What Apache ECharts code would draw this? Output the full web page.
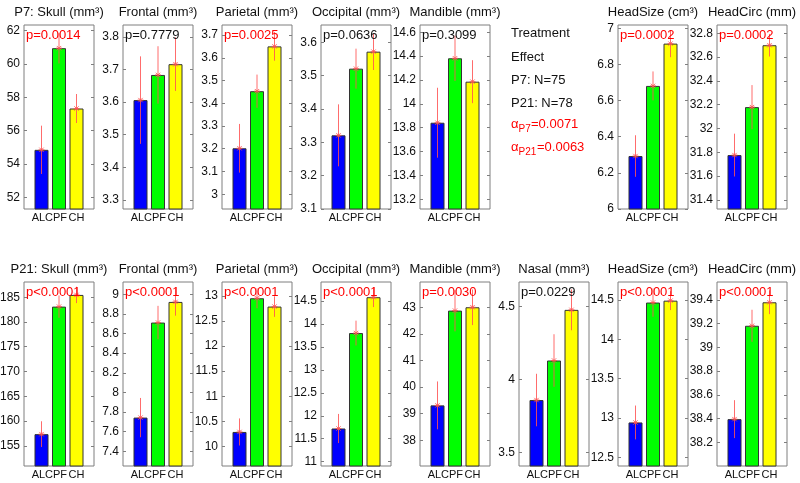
<!DOCTYPE html>
<html><head><meta charset="utf-8">
<script src="https://cdn.jsdelivr.net/npm/echarts@6/dist/echarts.min.js"></script>
<style>html,body{margin:0;padding:0;background:#fff}#c{width:800px;height:483px}</style>
</head><body><div id="c"></div>
<script>
// ---------- DATA ----------
const groups = ['AL', 'CPF', 'CH'];

// P7 (top row)
const p7SkullMean = [54.85, 60.95, 57.33];      const p7SkullErr = [1.45, 0.92, 0.87];
const p7SkullTicks = [52, 54, 56, 58, 60, 62];  const p7SkullRange = [51.3, 62.34];
const p7FrontalMean = [3.606, 3.683, 3.716];    const p7FrontalErr = [0.134, 0.088, 0.082];
const p7FrontalTicks = [3.3, 3.4, 3.5, 3.6, 3.7, 3.8]; const p7FrontalRange = [3.2725, 3.836];
const p7ParietalMean = [3.202, 3.453, 3.650];   const p7ParietalErr = [0.107, 0.073, 0.063];
const p7ParietalTicks = [3, 3.1, 3.2, 3.3, 3.4, 3.5, 3.6, 3.7]; const p7ParietalRange = [2.935, 3.744];
const p7OccipitalMean = [3.321, 3.521, 3.572];  const p7OccipitalErr = [0.093, 0.060, 0.055];
const p7OccipitalTicks = [3.1, 3.2, 3.3, 3.4, 3.5, 3.6]; const p7OccipitalRange = [3.1, 3.652];
const p7MandibleMean = [13.842, 14.382, 14.186]; const p7MandibleErr = [0.293, 0.19, 0.18];
const p7MandibleTicks = [13.2, 13.4, 13.6, 13.8, 14, 14.2, 14.4, 14.6]; const p7MandibleRange = [13.119, 14.661];
const p7HeadSizeMean = [6.293, 6.681, 6.915];   const p7HeadSizeErr = [0.115, 0.08, 0.075];
const p7HeadSizeTicks = [6, 6.2, 6.4, 6.6, 6.8, 7]; const p7HeadSizeRange = [6, 7.018];
const p7HeadCircMean = [31.777, 32.18, 32.70];  const p7HeadCircErr = [0.18, 0.185, 0.095];
const p7HeadCircTicks = [31.4, 31.6, 31.8, 32, 32.2, 32.4, 32.6, 32.8]; const p7HeadCircRange = [31.324, 32.87];

// P21 (bottom row)
const p21SkullMean = [157.35, 183.1, 185.46];   const p21SkullErr = [2.6, 2.25, 1.65];
const p21SkullTicks = [155, 160, 165, 170, 175, 180, 185]; const p21SkullRange = [150.92, 188.07];
const p21FrontalMean = [7.744, 8.712, 8.922];   const p21FrontalErr = [0.2, 0.17, 0.14];
const p21FrontalTicks = [7.4, 7.6, 7.8, 8, 8.2, 8.4, 8.6, 8.8, 9]; const p21FrontalRange = [7.251, 9.125];
const p21ParietalMean = [10.288, 12.954, 12.788]; const p21ParietalErr = [0.27, 0.2, 0.205];
const p21ParietalTicks = [10, 10.5, 11, 11.5, 12, 12.5, 13]; const p21ParietalRange = [9.609, 13.278];
const p21OccipitalMean = [11.723, 13.80, 14.58]; const p21OccipitalErr = [0.317, 0.27, 0.215];
const p21OccipitalTicks = [11, 11.5, 12, 12.5, 13, 13.5, 14, 14.5]; const p21OccipitalRange = [10.907, 14.911];
const p21MandibleMean = [39.31, 42.874, 43.0];  const p21MandibleErr = [0.9, 0.78, 0.67];
const p21MandibleTicks = [38, 39, 40, 41, 42, 43]; const p21MandibleRange = [37.03, 43.95];
const p21NasalMean = [3.859, 4.13, 4.477];      const p21NasalErr = [0.18, 0.18, 0.14];
const p21NasalTicks = [3.5, 4, 4.5];            const p21NasalRange = [3.407, 4.668];
const p21HeadSizeMean = [12.943, 14.466, 14.49]; const p21HeadSizeErr = [0.215, 0.18, 0.12];
const p21HeadSizeTicks = [12.5, 13, 13.5, 14, 14.5]; const p21HeadSizeRange = [12.39, 14.727];
const p21HeadCircMean = [38.395, 39.182, 39.38]; const p21HeadCircErr = [0.16, 0.135, 0.1];
const p21HeadCircTicks = [38.2, 38.4, 38.6, 38.8, 39, 39.2, 39.4]; const p21HeadCircRange = [38.0, 39.551];

const noteLines = ['Treatment', 'Effect', 'P7: N=75', 'P21: N=78'];
const alphaLabels = ['P7', 'P21'];
const alphaValues = ['=0.0071', '=0.0063'];

// ---------- PANELS ----------
const panels = [
  {row:0,col:0,title:'P7: Skull (mm³)',mean:p7SkullMean,err:p7SkullErr,ticks:p7SkullTicks,range:p7SkullRange,p:'p=0.0014',sig:true},
  {row:0,col:1,title:'Frontal (mm³)',mean:p7FrontalMean,err:p7FrontalErr,ticks:p7FrontalTicks,range:p7FrontalRange,p:'p=0.7779',sig:false},
  {row:0,col:2,title:'Parietal (mm³)',mean:p7ParietalMean,err:p7ParietalErr,ticks:p7ParietalTicks,range:p7ParietalRange,p:'p=0.0025',sig:true},
  {row:0,col:3,title:'Occipital (mm³)',mean:p7OccipitalMean,err:p7OccipitalErr,ticks:p7OccipitalTicks,range:p7OccipitalRange,p:'p=0.0636',sig:false},
  {row:0,col:4,title:'Mandible (mm³)',mean:p7MandibleMean,err:p7MandibleErr,ticks:p7MandibleTicks,range:p7MandibleRange,p:'p=0.3099',sig:false},
  {row:0,col:6,title:'HeadSize (cm³)',mean:p7HeadSizeMean,err:p7HeadSizeErr,ticks:p7HeadSizeTicks,range:p7HeadSizeRange,p:'p=0.0002',sig:true},
  {row:0,col:7,title:'HeadCirc (mm)',mean:p7HeadCircMean,err:p7HeadCircErr,ticks:p7HeadCircTicks,range:p7HeadCircRange,p:'p=0.0002',sig:true},
  {row:1,col:0,title:'P21: Skull (mm³)',mean:p21SkullMean,err:p21SkullErr,ticks:p21SkullTicks,range:p21SkullRange,p:'p<0.0001',sig:true},
  {row:1,col:1,title:'Frontal (mm³)',mean:p21FrontalMean,err:p21FrontalErr,ticks:p21FrontalTicks,range:p21FrontalRange,p:'p<0.0001',sig:true},
  {row:1,col:2,title:'Parietal (mm³)',mean:p21ParietalMean,err:p21ParietalErr,ticks:p21ParietalTicks,range:p21ParietalRange,p:'p<0.0001',sig:true},
  {row:1,col:3,title:'Occipital (mm³)',mean:p21OccipitalMean,err:p21OccipitalErr,ticks:p21OccipitalTicks,range:p21OccipitalRange,p:'p<0.0001',sig:true},
  {row:1,col:4,title:'Mandible (mm³)',mean:p21MandibleMean,err:p21MandibleErr,ticks:p21MandibleTicks,range:p21MandibleRange,p:'p=0.0030',sig:true},
  {row:1,col:5,title:'Nasal (mm³)',mean:p21NasalMean,err:p21NasalErr,ticks:p21NasalTicks,range:p21NasalRange,p:'p=0.0229',sig:false},
  {row:1,col:6,title:'HeadSize (cm³)',mean:p21HeadSizeMean,err:p21HeadSizeErr,ticks:p21HeadSizeTicks,range:p21HeadSizeRange,p:'p<0.0001',sig:true},
  {row:1,col:7,title:'HeadCirc (mm)',mean:p21HeadCircMean,err:p21HeadCircErr,ticks:p21HeadCircTicks,range:p21HeadCircRange,p:'p<0.0001',sig:true}
];

// ---------- LAYOUT / STYLE ----------
const FONT = '"Liberation Sans", Arial, Helvetica, sans-serif';
const barColors = ['#0000ff', '#00ff00', '#ffff00'];
const BOX = '#7f7f7f', TXT = '#111111', RED = '#ff0000', ERR = '#ff5252';
const GX0 = 24, COLW = 99, GW = 70;
const ROWS = [{top: 25, h: 184}, {top: 282, h: 184}];
const labelPad = {AL: [0, 6, 0, 0], CPF: [0, 6, 0, 0], CH: [0, 0, 0, 0]};

const option = {
  animation: false, backgroundColor: '#fff',
  grid: [], xAxis: [], yAxis: [], series: [], graphic: []
};

panels.forEach((pn, i) => {
  const left = GX0 + COLW * pn.col, top = ROWS[pn.row].top, h = ROWS[pn.row].h;
  option.grid.push({left: left, top: top, width: GW, height: h, show: true,
    borderColor: BOX, borderWidth: 1, backgroundColor: '#fff', containLabel: false, outerBoundsMode: 'none'});
  option.xAxis.push({type: 'category', gridIndex: i, boundaryGap: false,
    data: ['', ...groups.map(g => ({value: g, textStyle: {padding: labelPad[g]}})), ''],
    axisLine: {show: false}, axisTick: {show: false}, splitLine: {show: false},
    axisLabel: {interval: 0, fontSize: 11, color: TXT, margin: 3, fontFamily: FONT}});
  const tick = {show: true, inside: true, length: 3, customValues: pn.ticks, lineStyle: {color: BOX, width: 1}};
  option.yAxis.push({type: 'value', gridIndex: i, min: pn.range[0], max: pn.range[1], position: 'left',
    axisLine: {show: false}, splitLine: {show: false}, axisTick: tick,
    axisLabel: {customValues: pn.ticks, fontSize: 12, color: TXT, margin: 4, fontFamily: FONT,
      formatter: v => String(+(+v).toFixed(3))}});
  option.yAxis.push({type: 'value', gridIndex: i, min: pn.range[0], max: pn.range[1], position: 'right',
    axisLine: {show: false}, splitLine: {show: false}, axisTick: tick, axisLabel: {show: false}});
  option.series.push({type: 'bar', xAxisIndex: i, yAxisIndex: 2 * i, barWidth: 14, clip: true, z: 2,
    data: ['-', ...pn.mean, '-'],
    itemStyle: {color: p => barColors[(p.dataIndex - 1 + 3) % 3], borderColor: '#333', borderWidth: 1}});
  option.series.push({type: 'custom', xAxisIndex: i, yAxisIndex: 2 * i, z: 3, clip: false,
    data: pn.mean.map((m, k) => [k + 1, m, pn.err[k]]),
    encode: {x: 0, y: 1},
    renderItem: (params, api) => {
      const x = api.value(0), m = api.value(1), e = api.value(2);
      const a = api.coord([x, m + e]), b = api.coord([x, m - e]), c = api.coord([x, m]);
      const s = 3, d = 2.2;
      const st = {stroke: ERR, lineWidth: 1, opacity: 0.85};
      return {type: 'group', children: [
        {type: 'line', shape: {x1: a[0], y1: a[1], x2: b[0], y2: b[1]}, style: st},
        {type: 'line', shape: {x1: c[0] - s, y1: c[1], x2: c[0] + s, y2: c[1]}, style: st},
        {type: 'line', shape: {x1: c[0] - d, y1: c[1] - d, x2: c[0] + d, y2: c[1] + d}, style: st},
        {type: 'line', shape: {x1: c[0] - d, y1: c[1] + d, x2: c[0] + d, y2: c[1] - d}, style: st}
      ]};
    }});
  // title
  option.graphic.push({type: 'text', x: left + GW / 2, y: top - 13, z: 10,
    style: {text: pn.title, fill: TXT, font: '13px ' + FONT, align: 'center', verticalAlign: 'middle',
      textAlign: 'center', textVerticalAlign: 'middle'}});
  // p-value
  option.graphic.push({type: 'text', x: left + 2, y: top + 10, z: 10,
    style: {text: pn.p, fill: pn.sig ? RED : TXT, font: '13px ' + FONT, align: 'left', verticalAlign: 'middle',
      textAlign: 'left', textVerticalAlign: 'middle'}});
});

// Treatment-effect note block
const noteX = 511, noteY = [33, 57, 80, 103];
noteLines.forEach((t, k) => option.graphic.push({type: 'text', x: noteX, y: noteY[k], z: 10,
  style: {text: t, fill: TXT, font: '13px ' + FONT, align: 'left', verticalAlign: 'middle', textAlign: 'left', textVerticalAlign: 'middle'}}));
const alphaY = [124, 147], alphaValX = [531, 537];
alphaLabels.forEach((t, k) => {
  option.graphic.push({type: 'text', x: noteX, y: alphaY[k], z: 10,
    style: {text: 'α', fill: RED, font: '13px ' + FONT, align: 'left', verticalAlign: 'middle', textAlign: 'left', textVerticalAlign: 'middle'}});
  option.graphic.push({type: 'text', x: noteX + 7.5, y: alphaY[k] + 5, z: 10,
    style: {text: t, fill: RED, font: '10px ' + FONT, align: 'left', verticalAlign: 'middle', textAlign: 'left', textVerticalAlign: 'middle'}});
  option.graphic.push({type: 'text', x: alphaValX[k], y: alphaY[k], z: 10,
    style: {text: alphaValues[k], fill: RED, font: '13px ' + FONT, align: 'left', verticalAlign: 'middle', textAlign: 'left', textVerticalAlign: 'middle'}});
});

const chart = echarts.init(document.getElementById('c'), null, {renderer: 'canvas', width: 800, height: 483});
chart.setOption(option);
</script></body></html>
